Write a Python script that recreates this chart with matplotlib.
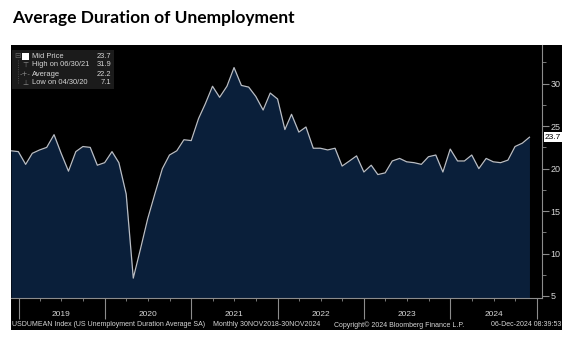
import pandas as pd
import matplotlib.pyplot as plt
import matplotlib.dates as mdates
from matplotlib.patches import Rectangle
from datetime import datetime

# Average duration of unemployment (weeks), month-end, Nov 2018 - Nov 2024
dates = pd.date_range('2018-11-30', '2024-11-30', freq='ME')
weeks = [22.1, 22.0, 20.5, 21.8, 22.2, 22.5, 24.0, 21.8, 19.7, 22.0, 22.6, 22.5,
         20.4, 20.7, 22.0, 20.7, 17.0, 7.1, 10.6, 14.1, 17.1, 20.0, 21.6, 22.1,
         23.4, 23.3, 25.9, 27.6, 29.7, 28.4, 29.7, 31.9, 29.8, 29.6, 28.5, 26.9,
         28.9, 28.2, 24.6, 26.4, 24.3, 24.9, 22.4, 22.4, 22.2, 22.4, 20.3, 20.9,
         21.5, 19.6, 20.4, 19.3, 19.5, 20.9, 21.2, 20.8, 20.7, 20.5, 21.4, 21.6,
         19.6, 22.3, 20.9, 20.9, 21.6, 20.0, 21.2, 20.8, 20.7, 21.0, 22.6, 23.0,
         23.7]
years = [2019, 2020, 2021, 2022, 2023, 2024]

legend_rows = ['Mid Price', 'High on 06/30/21', 'Average', 'Low on 04/30/20']
legend_vals = ['23.7', '31.9', '22.2', '7.1']
legend_icons = ['', '\u22a4', '-+-', '\u22a5']

W, H = 571, 340
fill_col = '#0a1f3a'
line_col = '#b9bdc4'
txt_col = '#d6d6d6'
tick_col = '#8c8c8c'
small_font = 'Liberation Sans'

fig = plt.figure(figsize=(W / 100, H / 100), dpi=100)
fig.patch.set_facecolor('white')

# black terminal panel behind the chart
fig.patches.append(Rectangle((11 / W, 1 - 330 / H), (562 - 11) / W, (330 - 45) / H,
                             transform=fig.transFigure, facecolor='black',
                             edgecolor='none', zorder=-5))

fig.text(12 / W, 1 - 18 / H, 'Average Duration of Unemployment', fontsize=12.5,
         fontweight='bold', family='Lato', va='center', ha='left', color='black')

ax = fig.add_axes([11 / W, 1 - 298 / H, (542 - 11) / W, (298 - 45) / H])
ax.set_facecolor('black')

ax.fill_between(dates, weeks, 0, color=fill_col, linewidth=0)
ax.plot(dates, weeks, color=line_col, linewidth=0.9)

ax.set_xlim(dates[0], datetime(2025, 1, 22))
ax.set_ylim(4.76, 34.56)

# right-hand value axis
ax.yaxis.tick_right()
ax.set_yticks([5, 10, 15, 20, 25, 30])
ax.set_yticks([7.5, 12.5, 17.5, 22.5, 27.5, 32.5], minor=True)
ax.tick_params(axis='y', which='major', colors=tick_col, labelcolor=txt_col,
               length=5, width=0.8, labelsize=6.5, pad=1)
ax.tick_params(axis='y', which='minor', colors=tick_col, length=3, width=0.6)
for lbl in ax.get_yticklabels():
    lbl.set_family(small_font)

# year separators and quarterly minor ticks
ax.xaxis.set_major_locator(mdates.YearLocator())
ax.xaxis.set_major_formatter(plt.NullFormatter())
ax.xaxis.set_minor_locator(mdates.MonthLocator(bymonth=[4, 7, 10]))
ax.tick_params(axis='x', which='major', colors=tick_col, length=15, width=0.8)
ax.tick_params(axis='x', which='minor', colors=tick_col, length=2, width=0.6)

for y in years:
    ax.text(datetime(y, 7, 1), -0.064, str(y), transform=ax.get_xaxis_transform(),
            ha='center', va='center', fontsize=6, color=txt_col, family=small_font)

for side in ['left', 'top']:
    ax.spines[side].set_visible(False)
for side in ['right', 'bottom']:
    ax.spines[side].set_color(tick_col)
    ax.spines[side].set_linewidth(0.8)

# last value tag on the right axis
ax.annotate(f'{weeks[-1]:.1f}', xy=(1.0, weeks[-1]), xycoords=('axes fraction', 'data'),
            xytext=(2, 0), textcoords='offset points', ha='left', va='center',
            fontsize=6, color='black', family=small_font,
            bbox=dict(boxstyle='square,pad=0.15', facecolor='white', edgecolor='none'))

# summary legend box in the top-left corner
fig.patches.append(Rectangle((12 / W, 1 - 89 / H), (114 - 12) / W, (89 - 50) / H,
                             transform=fig.transFigure, facecolor='#1b1b1b',
                             edgecolor='none', zorder=2))
row_y = [56, 65, 74, 83]
fig.lines.append(plt.Line2D([18 / W, 18 / W], [1 - 60 / H, 1 - 83 / H],
                            transform=fig.transFigure, color='#5a5a5a', lw=0.6,
                            linestyle=':', zorder=3))
fig.text(17 / W, 1 - row_y[0] / H, '\u229f', fontsize=5.5, color='#6a6a6a',
         ha='center', va='center', zorder=3)
fig.patches.append(Rectangle((22 / W, 1 - 60 / H), 7 / W, 7 / H,
                             transform=fig.transFigure, facecolor='white',
                             edgecolor='none', zorder=3))
for lab, val, icon, yy in zip(legend_rows, legend_vals, legend_icons, row_y):
    fig.text(32 / W, 1 - yy / H, lab, fontsize=5.4, color=txt_col, family=small_font,
             ha='left', va='center', zorder=3)
    fig.text(111 / W, 1 - yy / H, val, fontsize=5.4, color=txt_col, family=small_font,
             ha='right', va='center', zorder=3)
    if icon:
        fig.text(25 / W, 1 - yy / H, icon, fontsize=5, color='#8a8a8a',
                 ha='center', va='center', zorder=3)

# footer line
foot_y = 1 - 325 / H
foot_kw = dict(fontsize=5.0, color=txt_col, va='center', family=small_font)
fig.text(12 / W, foot_y, 'USDUMEAN Index (US Unemployment Duration Average SA)',
         ha='left', **foot_kw)
fig.text(213 / W, foot_y, 'Monthly 30NOV2018-30NOV2024', ha='left', **foot_kw)
fig.text(334 / W, foot_y, 'Copyright\u00a9 2024 Bloomberg Finance L.P.', ha='left', **foot_kw)
fig.text(561 / W, foot_y, '06-Dec-2024 08:39:53', ha='right', **foot_kw)

fig.savefig('out.png', dpi=100, facecolor='white')
